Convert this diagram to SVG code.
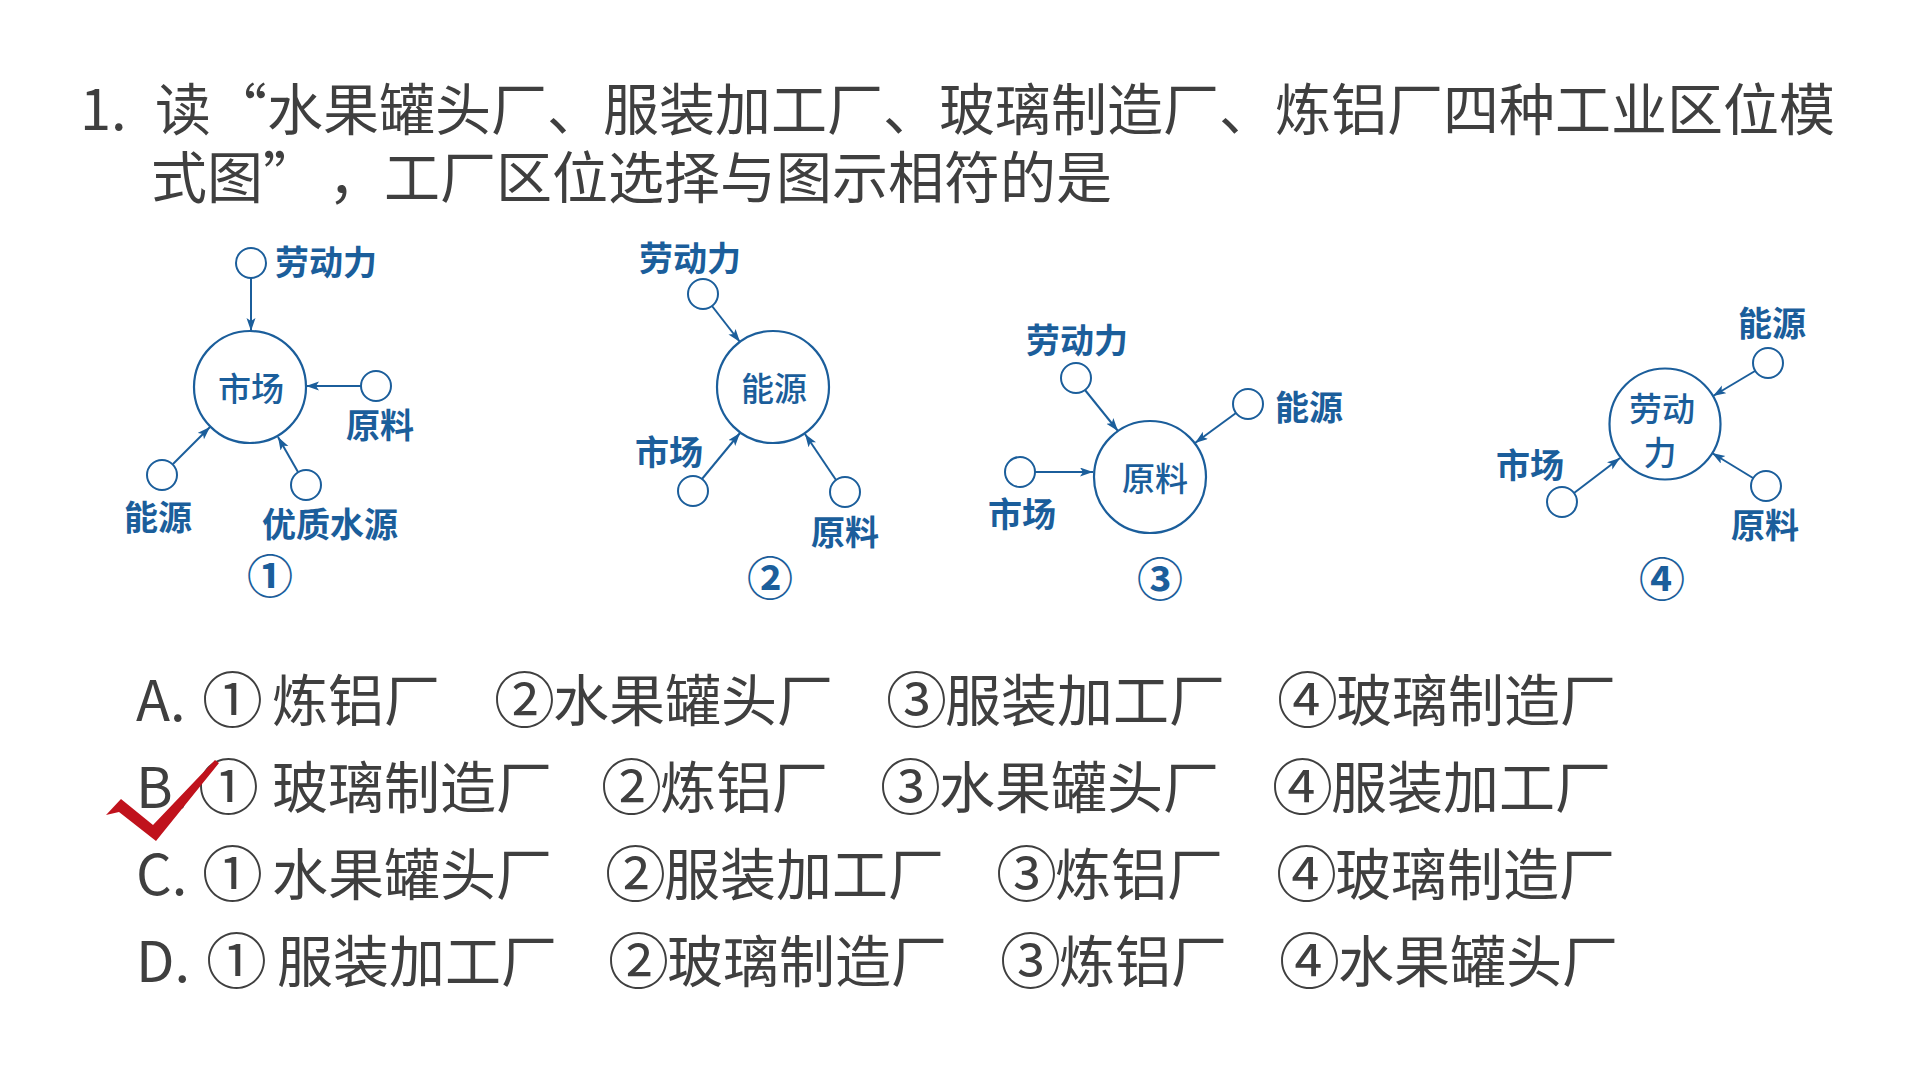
<svg xmlns="http://www.w3.org/2000/svg" width="1920" height="1080" viewBox="0 0 1920 1080">
<defs>
<style>
.t{font-family:"Noto Sans CJK SC","Microsoft YaHei",sans-serif;fill:#3f3f3f;font-size:56px}
.o{font-family:"Noto Sans CJK SC",sans-serif;fill:#3f3f3f;font-size:56px}
.c{font-size:61px}
.lb{font-family:"Noto Sans CJK SC",sans-serif;fill:#1b5e9b;font-size:34px;font-weight:700}
.ctr{font-family:"Noto Sans CJK SC",sans-serif;fill:#1b5e9b;font-size:33px;font-weight:500}
.num{font-family:"Noto Sans CJK SC",sans-serif;fill:#1b5e9b;font-size:46px;font-weight:700}
.sm{fill:#fff;stroke:#1b5e9b;stroke-width:2}
.big{fill:#fff;stroke:#1b5e9b;stroke-width:2.2}
.ln{stroke:#1b5e9b;stroke-width:2;fill:none;marker-end:url(#ah)}
</style>
<marker id="ah" markerUnits="userSpaceOnUse" markerWidth="14" markerHeight="10" refX="13" refY="4.5" orient="auto">
<path d="M0,0 L13,4.5 L0,9 L3,4.5 z" fill="#1b5e9b"/>
</marker>
</defs>
<rect width="1920" height="1080" fill="#fff"/>

<g id="title">
<text class="t" x="80" y="130">1.<tspan x="155">读“水果罐头厂、服装加工厂、玻璃制造厂、炼铝厂四种工业区位模</tspan></text>
<text class="t" x="151" y="198">式图”<tspan x="328">，工厂区位选择与图示相符的是</tspan></text>
</g>

<g id="connectors">
<line class="ln" x1="251" y1="278" x2="251" y2="331"/>
<line class="ln" x1="361" y1="386" x2="306" y2="386"/>
<line class="ln" x1="173" y1="464" x2="210" y2="427"/>
<line class="ln" x1="298" y1="472" x2="278" y2="437"/>

<line class="ln" x1="712" y1="306" x2="740" y2="342"/>
<line class="ln" x1="702" y1="479" x2="740" y2="433"/>
<line class="ln" x1="836" y1="480" x2="805" y2="434"/>

<line class="ln" x1="1085" y1="390" x2="1118" y2="431"/>
<line class="ln" x1="1236" y1="413" x2="1195" y2="443"/>
<line class="ln" x1="1035" y1="472" x2="1093" y2="472"/>

<line class="ln" x1="1755" y1="371" x2="1713" y2="396"/>
<line class="ln" x1="1574" y1="493" x2="1620" y2="458"/>
<line class="ln" x1="1753" y1="478" x2="1712" y2="453"/>
</g>

<g id="diagram1">
<circle class="big" cx="250" cy="387" r="56"/>
<text class="ctr" x="251" y="401" text-anchor="middle">市场</text>
<circle class="sm" cx="251" cy="263" r="15"/>
<text class="lb" x="275" y="275">劳动力</text>
<circle class="sm" cx="376" cy="386" r="15"/>
<text class="lb" x="380" y="438" text-anchor="middle">原料</text>
<circle class="sm" cx="162" cy="475" r="15"/>
<text class="lb" x="158" y="530" text-anchor="middle">能源</text>
<circle class="sm" cx="306" cy="485" r="15"/>
<text class="lb" x="330" y="537" text-anchor="middle">优质水源</text>
<text class="num" x="270" y="593" text-anchor="middle">①</text>
</g>

<g id="diagram2">
<circle class="big" cx="773" cy="387" r="56"/>
<text class="ctr" x="774" y="401" text-anchor="middle">能源</text>
<circle class="sm" cx="703" cy="294" r="15"/>
<text class="lb" x="690" y="271" text-anchor="middle">劳动力</text>
<circle class="sm" cx="693" cy="491" r="15"/>
<text class="lb" x="669" y="465" text-anchor="middle">市场</text>
<circle class="sm" cx="845" cy="492" r="15"/>
<text class="lb" x="845" y="545" text-anchor="middle">原料</text>
<text class="num" x="770" y="595" text-anchor="middle">②</text>
</g>

<g id="diagram3">
<circle class="big" cx="1150" cy="477" r="56"/>
<text class="ctr" x="1155" y="491" text-anchor="middle">原料</text>
<circle class="sm" cx="1076" cy="378" r="15"/>
<text class="lb" x="1077" y="353" text-anchor="middle">劳动力</text>
<circle class="sm" cx="1248" cy="404" r="15"/>
<text class="lb" x="1275" y="420">能源</text>
<circle class="sm" cx="1020" cy="472" r="15"/>
<text class="lb" x="1022" y="527" text-anchor="middle">市场</text>
<text class="num" x="1160" y="596" text-anchor="middle">③</text>
</g>

<g id="diagram4">
<circle class="big" cx="1665" cy="424" r="55.5"/>
<text class="ctr" x="1662" y="421" text-anchor="middle">劳动</text>
<text class="ctr" x="1660" y="465" text-anchor="middle">力</text>
<circle class="sm" cx="1768" cy="363" r="15"/>
<text class="lb" x="1772" y="336" text-anchor="middle">能源</text>
<circle class="sm" cx="1562" cy="502" r="15"/>
<text class="lb" x="1530" y="478" text-anchor="middle">市场</text>
<circle class="sm" cx="1766" cy="486" r="15"/>
<text class="lb" x="1765" y="538" text-anchor="middle">原料</text>
<text class="num" x="1662" y="596" text-anchor="middle">④</text>
</g>

<g id="optionA">
<text class="o" x="136" y="721">A.</text>
<text class="o c" x="202" y="723">①</text>
<text class="o" x="272" y="721">炼铝厂</text>
<text class="o" y="721"><tspan class="c" x="494" dy="2">②</tspan><tspan x="553" dy="-2">水果罐头厂</tspan></text>
<text class="o" y="721"><tspan class="c" x="886" dy="2">③</tspan><tspan x="945" dy="-2">服装加工厂</tspan></text>
<text class="o" y="721"><tspan class="c" x="1277" dy="2">④</tspan><tspan x="1336" dy="-2">玻璃制造厂</tspan></text>
</g>
<g id="optionB">
<text class="o" x="136" y="808">B.</text>
<text class="o c" x="198" y="810">①</text>
<text class="o" x="272" y="808">玻璃制造厂</text>
<text class="o" y="808"><tspan class="c" x="601" dy="2">②</tspan><tspan x="660" dy="-2">炼铝厂</tspan></text>
<text class="o" y="808"><tspan class="c" x="880" dy="2">③</tspan><tspan x="939" dy="-2">水果罐头厂</tspan></text>
<text class="o" y="808"><tspan class="c" x="1272" dy="2">④</tspan><tspan x="1331" dy="-2">服装加工厂</tspan></text>
</g>
<g id="optionC">
<text class="o" x="136" y="895">C.</text>
<text class="o c" x="202" y="897">①</text>
<text class="o" x="272" y="895">水果罐头厂</text>
<text class="o" y="895"><tspan class="c" x="605" dy="2">②</tspan><tspan x="664" dy="-2">服装加工厂</tspan></text>
<text class="o" y="895"><tspan class="c" x="996" dy="2">③</tspan><tspan x="1055" dy="-2">炼铝厂</tspan></text>
<text class="o" y="895"><tspan class="c" x="1276" dy="2">④</tspan><tspan x="1335" dy="-2">玻璃制造厂</tspan></text>
</g>
<g id="optionD">
<text class="o" x="136" y="982">D.</text>
<text class="o c" x="206" y="984">①</text>
<text class="o" x="277" y="982">服装加工厂</text>
<text class="o" y="982"><tspan class="c" x="608" dy="2">②</tspan><tspan x="667" dy="-2">玻璃制造厂</tspan></text>
<text class="o" y="982"><tspan class="c" x="1000" dy="2">③</tspan><tspan x="1059" dy="-2">炼铝厂</tspan></text>
<text class="o" y="982"><tspan class="c" x="1279" dy="2">④</tspan><tspan x="1338" dy="-2">水果罐头厂</tspan></text>
</g>

<g id="checkmark">
<polygon points="106,815 121,799 153,825 215,760 219,763 156,841 119,812" fill="#c0121c"/>
</g>
</svg>
